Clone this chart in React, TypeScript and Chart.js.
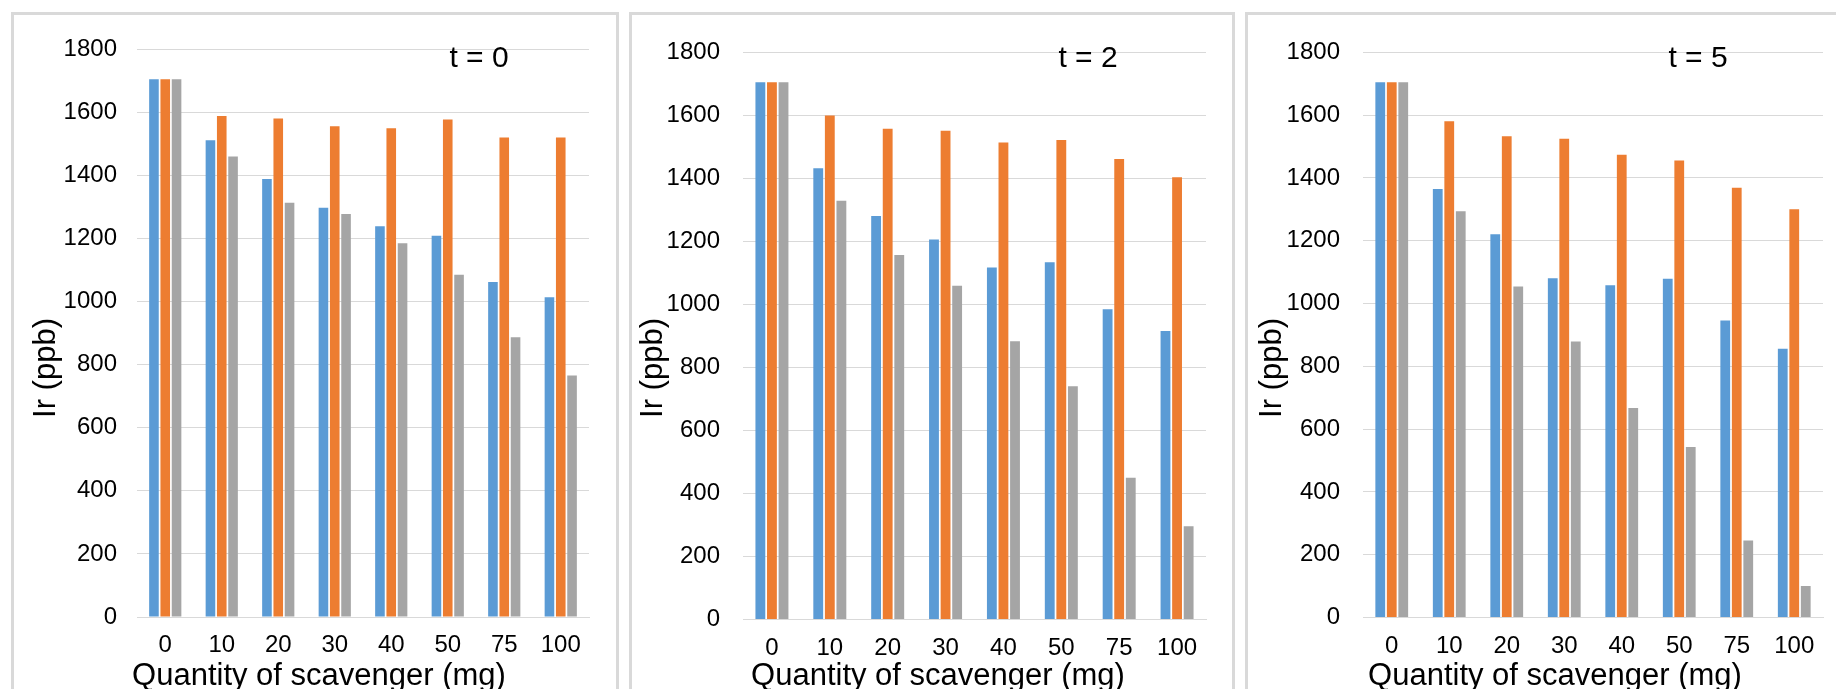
import React, { useEffect, useRef } from 'react';
import { Chart, registerables } from 'chart.js';

Chart.register(...registerables);

// ---------- data ----------
const CATEGORIES = ['0', '10', '20', '30', '40', '50', '75', '100'];
const Y_MIN = 0;
const Y_MAX = 1800;
const Y_STEP = 200;

const T0_BLUE = [1705, 1512, 1389, 1298, 1239, 1209, 1062, 1014];
const T0_ORANGE = [1705, 1589, 1581, 1556, 1550, 1578, 1521, 1521];
const T0_GRAY = [1705, 1460, 1314, 1278, 1185, 1085, 887, 766];

const T2_BLUE = [1705, 1432, 1281, 1206, 1117, 1134, 985, 916];
const T2_ORANGE = [1705, 1600, 1558, 1551, 1514, 1522, 1462, 1404];
const T2_GRAY = [1705, 1329, 1157, 1059, 883, 740, 450, 296];

const T5_BLUE = [1705, 1365, 1221, 1081, 1058, 1079, 946, 856];
const T5_ORANGE = [1705, 1581, 1533, 1525, 1474, 1456, 1369, 1300];
const T5_GRAY = [1705, 1294, 1054, 879, 667, 543, 245, 100];

const PANEL_TITLES = ['t = 0', 't = 2', 't = 5'];
const Y_TITLE = 'Ir (ppb)';
const X_TITLE = 'Quantity of scavenger (mg)';

const COLORS = ['#5B9BD5', '#ED7D31', '#A5A5A5'];
const FONT = '"Liberation Sans", Arial, sans-serif';

// ---------- layout (page pixels) ----------
const PAGE_W = 1836;
const PAGE_H = 689;
const BOX_TOP = 12;
const BORDER = 3;

const PANELS = [
  {
    title: PANEL_TITLES[0],
    series: [T0_BLUE, T0_ORANGE, T0_GRAY],
    boxLeft: 11, boxRight: 619,
    plotLeft: 137, plotRight: 589, plotTop: 38.5, plotBottom: 617,
    tickRight: 117, tX: 479, yTitleX: 46, xTitleX: 319,
  },
  {
    title: PANEL_TITLES[1],
    series: [T2_BLUE, T2_ORANGE, T2_GRAY],
    boxLeft: 629, boxRight: 1235,
    plotLeft: 743, plotRight: 1206, plotTop: 38.5, plotBottom: 619.5,
    tickRight: 720, tX: 1088, yTitleX: 653, xTitleX: 938,
  },
  {
    title: PANEL_TITLES[2],
    series: [T5_BLUE, T5_ORANGE, T5_GRAY],
    boxLeft: 1245, boxRight: 1860,
    plotLeft: 1363, plotRight: 1823, plotTop: 38.5, plotBottom: 617.5,
    tickRight: 1340, tX: 1698, yTitleX: 1272, xTitleX: 1555,
  },
];

type PanelCfg = typeof PANELS[number];

function Panel({ cfg }: { cfg: PanelCfg }) {
  const ref = useRef<HTMLCanvasElement | null>(null);
  const cLeft = cfg.boxLeft + BORDER;
  const cTop = BOX_TOP + BORDER;
  const cRight = Math.min(cfg.boxRight - BORDER, PAGE_W);
  const cW = cRight - cLeft;
  const cH = PAGE_H - cTop;

  useEffect(() => {
    if (!ref.current) return;
    const textPlugin = {
      id: 'panelTexts',
      afterDraw(chart: any) {
        const ctx = chart.ctx;
        ctx.save();
        ctx.fillStyle = '#000';
        // panel label
        ctx.font = `30px ${FONT}`;
        ctx.textAlign = 'center';
        ctx.textBaseline = 'alphabetic';
        ctx.fillText(cfg.title, cfg.tX - cLeft, 67 - cTop);
        // x title
        ctx.font = `31px ${FONT}`;
        ctx.fillText(X_TITLE, cfg.xTitleX - cLeft, 684.5 - cTop);
        // y title
        ctx.translate(cfg.yTitleX - cLeft, 368 - cTop);
        ctx.rotate(-Math.PI / 2);
        ctx.textBaseline = 'middle';
        ctx.fillText(Y_TITLE, 0, 0);
        ctx.restore();
      },
    };
    const chart = new Chart(ref.current, {
      type: 'bar',
      data: {
        labels: CATEGORIES,
        datasets: cfg.series.map((vals, i) => ({
          label: `Series ${i + 1}`,
          data: vals,
          backgroundColor: COLORS[i],
          borderWidth: 0,
          categoryPercentage: 0.6,
          barPercentage: 0.85,
        })),
      },
      options: {
        animation: false,
        responsive: false,
        maintainAspectRatio: false,
        layout: {
          padding: {
            left: 0,
            top: cfg.plotTop - cTop,
            right: cRight - cfg.plotRight,
            bottom: 0,
          },
        },
        plugins: {
          legend: { display: false },
          tooltip: { enabled: false },
          title: { display: false },
        },
        scales: {
          x: {
            grid: { display: false, drawTicks: false },
            border: { display: true, color: '#d9d9d9', width: 1 },
            ticks: {
              font: { family: FONT, size: 24 },
              color: '#000',
              padding: 14,
              maxRotation: 0,
              autoSkip: false,
            },
            afterFit: (s: any) => { s.height = PAGE_H - cfg.plotBottom; },
          },
          y: {
            min: Y_MIN,
            max: Y_MAX,
            grid: { color: '#d9d9d9', lineWidth: 1, drawTicks: false },
            border: { display: false },
            ticks: {
              stepSize: Y_STEP,
              font: { family: FONT, size: 24 },
              color: '#000',
              padding: cfg.plotLeft - cfg.tickRight,
              callback: (v: any) => String(v),
            },
            afterFit: (s: any) => { s.width = cfg.plotLeft - cLeft; },
          },
        },
      },
      plugins: [textPlugin],
    });
    return () => chart.destroy();
  }, []);

  return (
    <>
      <div
        style={{
          position: 'absolute',
          left: cfg.boxLeft,
          top: BOX_TOP,
          width: cfg.boxRight - cfg.boxLeft,
          height: 720,
          border: `${BORDER}px solid #d9d9d9`,
          boxSizing: 'border-box',
        }}
      />
      <canvas
        ref={ref}
        width={cW}
        height={cH}
        style={{ position: 'absolute', left: cLeft, top: cTop, width: cW, height: cH }}
      />
    </>
  );
}

export default function App() {
  return (
    <div
      style={{
        position: 'absolute',
        left: 0,
        top: 0,
        width: PAGE_W,
        height: PAGE_H,
        overflow: 'hidden',
        background: '#fff',
      }}
    >
      {PANELS.map((p, i) => (
        <Panel key={i} cfg={p} />
      ))}
    </div>
  );
}
